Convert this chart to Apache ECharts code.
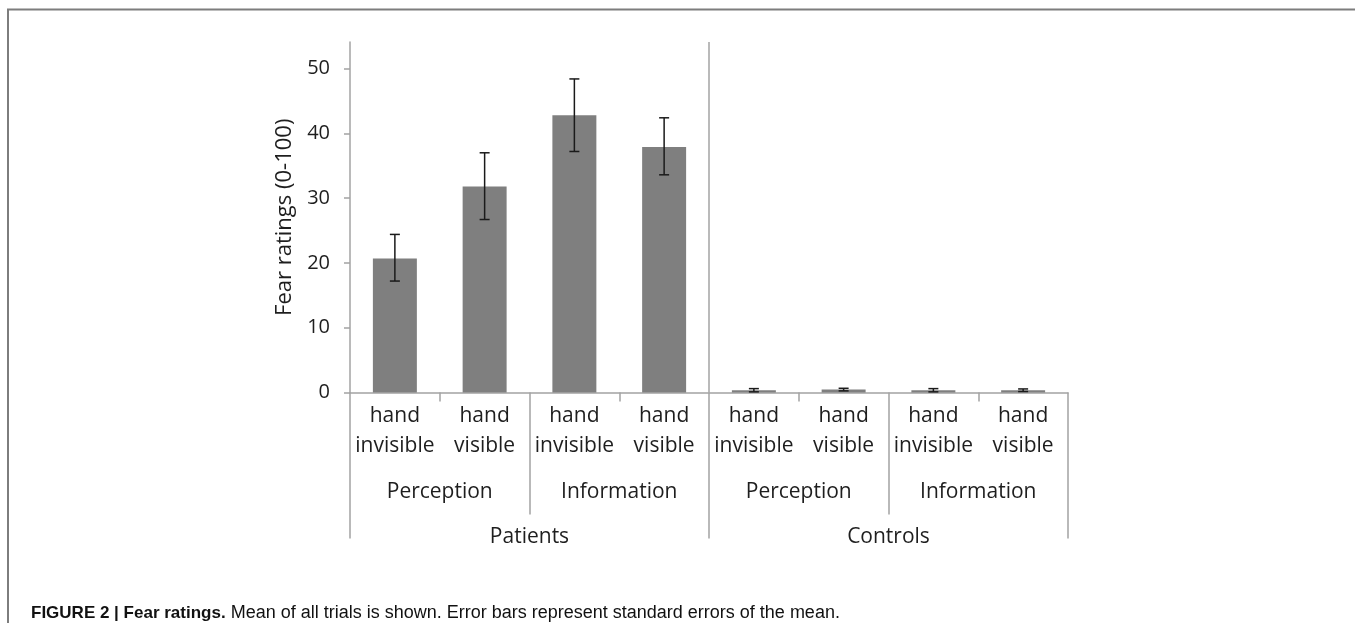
<!DOCTYPE html>
<html>
<head>
<meta charset="utf-8">
<script src="https://cdn.jsdelivr.net/npm/echarts@6/dist/echarts.min.js"></script>
<style>
  html, body { margin: 0; padding: 0; background: #fff; }
  #chart { width: 1355px; height: 623px; }
</style>
</head>
<body>
<div id="chart"></div>
<script>
// Condition labels (bottom level), task labels (middle level), group labels (top level)
const categories = [
  'hand\ninvisible', 'hand\nvisible', 'hand\ninvisible', 'hand\nvisible',
  'hand\ninvisible', 'hand\nvisible', 'hand\ninvisible', 'hand\nvisible'
];
const tasks = ['Perception', 'Information', 'Perception', 'Information'];
const groups = ['Patients', 'Controls'];

// Mean fear ratings (0-100) and standard-error limits
const meanRatings = [20.7, 31.8, 42.8, 37.9, 0.35, 0.45, 0.35, 0.35];
const errorLow    = [17.2, 26.7, 37.2, 33.6, 0.1, 0.25, 0.1, 0.15];
const errorHigh   = [24.4, 37.0, 48.4, 42.4, 0.6, 0.65, 0.6, 0.55];

// Y axis ticks
const yTicks = [0, 10, 20, 30, 40, 50];
const yMax = 54.1;

const axisGray = '#a3a3a3';
const textColor = '#1e1e1e';
const font = '"Open Sans", sans-serif';
const captionFont = '"Liberation Sans", Arial, sans-serif';

const chart = echarts.init(document.getElementById('chart'), null, { renderer: 'canvas' });

const option = {
  backgroundColor: '#ffffff',
  animation: false,
  title: {
    left: 26,
    top: 599,
    text: '{b|FIGURE 2 | Fear ratings.} {r|Mean of all trials is shown. Error bars represent standard errors of the mean.}',
    textStyle: {
      fontWeight: 'normal',
      fontSize: 18,
      fontFamily: captionFont,
      rich: {
        b: { fontFamily: captionFont, fontWeight: 'bold', fontSize: 17, color: '#111' },
        r: { fontFamily: captionFont, fontWeight: 'normal', fontSize: 18, color: '#111' }
      }
    }
  },
  grid: { left: 350, right: 287, top: 42, bottom: 230.5, containLabel: false },
  xAxis: [
    {
      type: 'category',
      data: categories,
      position: 'bottom',
      axisLine: { show: true, lineStyle: { color: axisGray, width: 1.5 } },
      axisTick: { show: true, length: 9, lineStyle: { color: axisGray, width: 1.5 } },
      axisLabel: { margin: 9, fontSize: 21, lineHeight: 30, color: textColor, fontFamily: font, interval: 0 }
    },
    {
      type: 'category',
      data: tasks,
      position: 'bottom',
      gridIndex: 0,
      axisLine: { show: false },
      axisTick: { show: true, length: 122, lineStyle: { color: axisGray, width: 1.5 } },
      axisLabel: { margin: 85, fontSize: 21, lineHeight: 30, color: textColor, fontFamily: font, interval: 0 }
    },
    {
      type: 'category',
      data: groups,
      position: 'bottom',
      gridIndex: 0,
      axisLine: { show: false },
      axisTick: { show: true, length: 146, lineStyle: { color: axisGray, width: 1.5 } },
      axisLabel: { margin: 130, fontSize: 21, lineHeight: 30, color: textColor, fontFamily: font, interval: 0 }
    },
    {
      // hidden index axis used to place the group divider
      type: 'value',
      min: 0,
      max: categories.length,
      show: false
    }
  ],
  yAxis: {
    type: 'value',
    min: 0,
    max: yMax,
    interval: 10,
    name: 'Fear ratings (0-100)',
    nameLocation: 'middle',
    nameRotate: 90,
    nameGap: 52,
    nameTextStyle: { fontSize: 22, color: textColor, fontFamily: font },
    splitLine: { show: false },
    axisLine: { show: true, lineStyle: { color: axisGray, width: 1.5 } },
    axisTick: { show: true, length: 6, customValues: yTicks, lineStyle: { color: axisGray, width: 1.5 } },
    axisLabel: { customValues: yTicks, margin: 20, fontSize: 20, color: textColor, fontFamily: font }
  },
  series: [
    {
      type: 'bar',
      xAxisIndex: 0,
      data: meanRatings,
      barWidth: '49%',
      itemStyle: { color: '#7f7f7f' }
    },
    {
      type: 'custom',
      xAxisIndex: 0,
      data: meanRatings.map((m, i) => [i, errorLow[i], errorHigh[i]]),
      encode: { x: 0, y: [1, 2] },
      z: 5,
      renderItem: function (params, api) {
        const i = api.value(0);
        const lo = api.coord([i, api.value(1)]);
        const hi = api.coord([i, api.value(2)]);
        const cap = 5;
        const style = { stroke: '#1a1a1a', lineWidth: 1.5 };
        return {
          type: 'group',
          children: [
            { type: 'line', shape: { x1: hi[0], y1: hi[1], x2: lo[0], y2: lo[1] }, style: style },
            { type: 'line', shape: { x1: hi[0] - cap, y1: hi[1], x2: hi[0] + cap, y2: hi[1] }, style: style },
            { type: 'line', shape: { x1: lo[0] - cap, y1: lo[1], x2: lo[0] + cap, y2: lo[1] }, style: style }
          ]
        };
      }
    },
    {
      // vertical divider between the two groups
      type: 'line',
      xAxisIndex: 3,
      data: [[categories.length / 2, 0], [categories.length / 2, yMax]],
      symbol: 'none',
      lineStyle: { color: axisGray, width: 1.5 },
      silent: true
    }
  ],
  graphic: [
    {
      type: 'polyline',
      shape: { points: [[8, 623], [8, 9.5], [1355, 9.5]] },
      style: { stroke: '#7d7d7d', lineWidth: 2, fill: null },
      silent: true
    }
  ]
};

chart.setOption(option);
</script>
</body>
</html>
